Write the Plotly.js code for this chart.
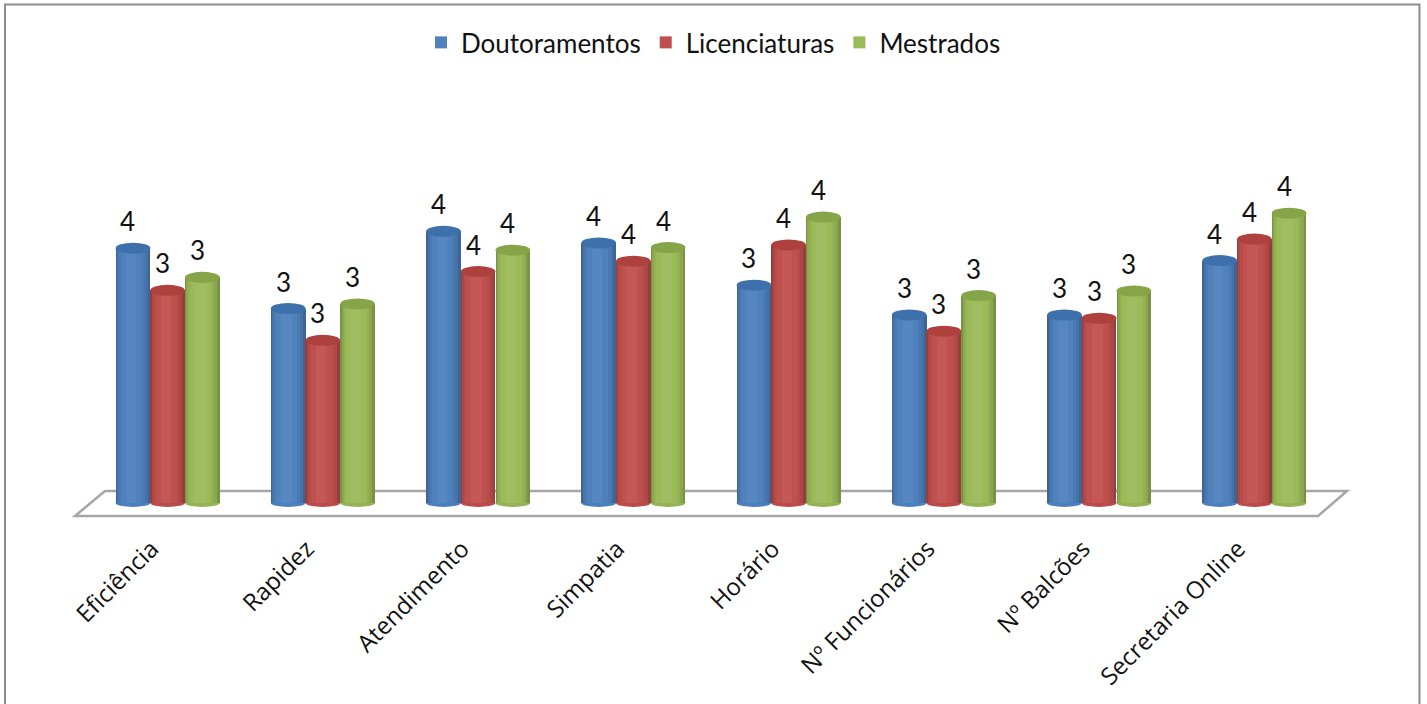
<!DOCTYPE html>
<html><head><meta charset="utf-8">
<script src="https://cdn.plot.ly/plotly-3.0.1.min.js"></script>
<style>html,body{margin:0;padding:0;background:#fff}#c{width:1427px;height:704px}</style>
</head><body><div id="c"></div>
<script>
const categories = ["Eficiência","Rapidez","Atendimento","Simpatia","Horário","Nº Funcionários","Nº Balcões","Secretaria Online"];
const doutoramentos = [3.93,3.00,4.19,4.01,3.36,2.90,2.90,3.74];
const licenciaturas = [3.28,2.51,3.57,3.73,3.98,2.65,2.85,4.07];
const mestrados     = [3.48,3.07,3.90,3.94,4.41,3.20,3.27,4.47];
const seriesNames = ["Doutoramentos","Licenciaturas","Mestrados"];
const seriesValues = [doutoramentos,licenciaturas,mestrados];
const baseColors = ["#4F81BD","#C0504D","#9BBB59"];
const capColors = ["#3E70AB","#AE403D","#86A548"];
const footColors = ["#4A7FC0","#BC4A4C","#93B354"];

const W=1427,H=704,L=90,R=1332,T=113.6,B=520;
const barW=0.2235, offs=[-0.335,-0.112,0.112];
const pad=0.262, yTop=6;
const px=v=>(v-L)/(R-L), py=v=>(B-v)/(B-T);
const FONT="Lato, sans-serif";
const TICKFONT="'Open Sans', sans-serif";
const layers=[
 {a:0.00,b:0.04,c:"rgba(0,0,0,0.22)"},
 {a:0.04,b:0.10,c:"rgba(0,0,0,0.10)"},
 {a:0.10,b:0.16,c:"rgba(0,0,0,0.04)"},
 {a:0.30,b:0.60,c:"rgba(255,255,255,0.05)"},
 {a:0.76,b:0.84,c:"rgba(0,0,0,0.05)"},
 {a:0.84,b:0.92,c:"rgba(0,0,0,0.11)"},
 {a:0.92,b:1.00,c:"rgba(0,0,0,0.22)"}
];
const traces=[];
seriesValues.forEach((vals,i)=>{
  traces.push({type:"bar",name:seriesNames[i],x:categories,y:vals,width:barW,offset:offs[i],
    marker:{color:baseColors[i],line:{width:0}},hovertemplate:"%{x}: %{y}<extra>"+seriesNames[i]+"</extra>"});
  layers.forEach(l=>traces.push({type:"bar",x:categories,y:vals,width:barW*(l.b-l.a),offset:offs[i]+barW*l.a,
    marker:{color:l.c,line:{width:0}},showlegend:false,hoverinfo:"skip"}));
});
const capH=0.085, footH=0.06, shapes=[], annotations=[];
shapes.push({type:"path",xref:"paper",yref:"paper",layer:"below",
  path:`M ${px(75)} ${py(516)} L ${px(105)} ${py(491)} L ${px(1347)} ${py(491)} L ${px(1318)} ${py(516)} Z`,
  line:{color:"#A6A6A6",width:2.5},fillcolor:"#FFFFFF"});
shapes.push({type:"path",xref:"paper",yref:"paper",layer:"below",
  path:`M ${px(5)} ${py(706)} L ${px(5)} ${py(4)} L ${px(1419.5)} ${py(4)} L ${px(1419.5)} ${py(706)}`,
  line:{color:"#8C8C8C",width:2},fillcolor:"rgba(0,0,0,0)"});
seriesValues.forEach((vals,i)=>{
  vals.forEach((v,k)=>{
    const x0=k+offs[i], x1=x0+barW;
    shapes.push({type:"circle",xref:"x",yref:"y",layer:"below",x0,x1,y0:-footH,y1:footH,fillcolor:footColors[i],line:{width:0}});
    shapes.push({type:"circle",xref:"x",yref:"y",layer:"above",x0,x1,y0:v-capH,y1:v+capH,fillcolor:capColors[i],line:{width:0}});
    annotations.push({x:x0+barW/2,y:v,xref:"x",yref:"y",text:String(Math.round(v)),showarrow:false,
      xshift:-5,yshift:27,font:{family:FONT,size:26,color:"#111"}});
  });
});
const layout={
  width:W,height:H,autosize:false,paper_bgcolor:"#fff",plot_bgcolor:"rgba(0,0,0,0)",
  margin:{l:L,r:W-R,t:T,b:H-B,pad:0},barmode:"overlay",bargap:0,
  xaxis:{type:"category",categoryorder:"array",categoryarray:categories,range:[-0.5,7.5],
    showgrid:false,zeroline:false,showline:false,ticks:"",tickangle:-45,
    ticklabelshift:-16,ticklabelstandoff:9,
    tickfont:{family:TICKFONT,size:24,color:"#111"}},
  yaxis:{range:[-pad,yTop],visible:false,showgrid:false,zeroline:false},
  legend:{orientation:"h",x:px(421),xanchor:"left",y:py(42),yanchor:"middle",itemwidth:30,
    font:{family:FONT,size:26,color:"#111"},bgcolor:"rgba(0,0,0,0)"},
  showlegend:true,shapes,annotations
};
Plotly.newPlot("c",traces,layout,{displayModeBar:false,responsive:false});
</script></body></html>
